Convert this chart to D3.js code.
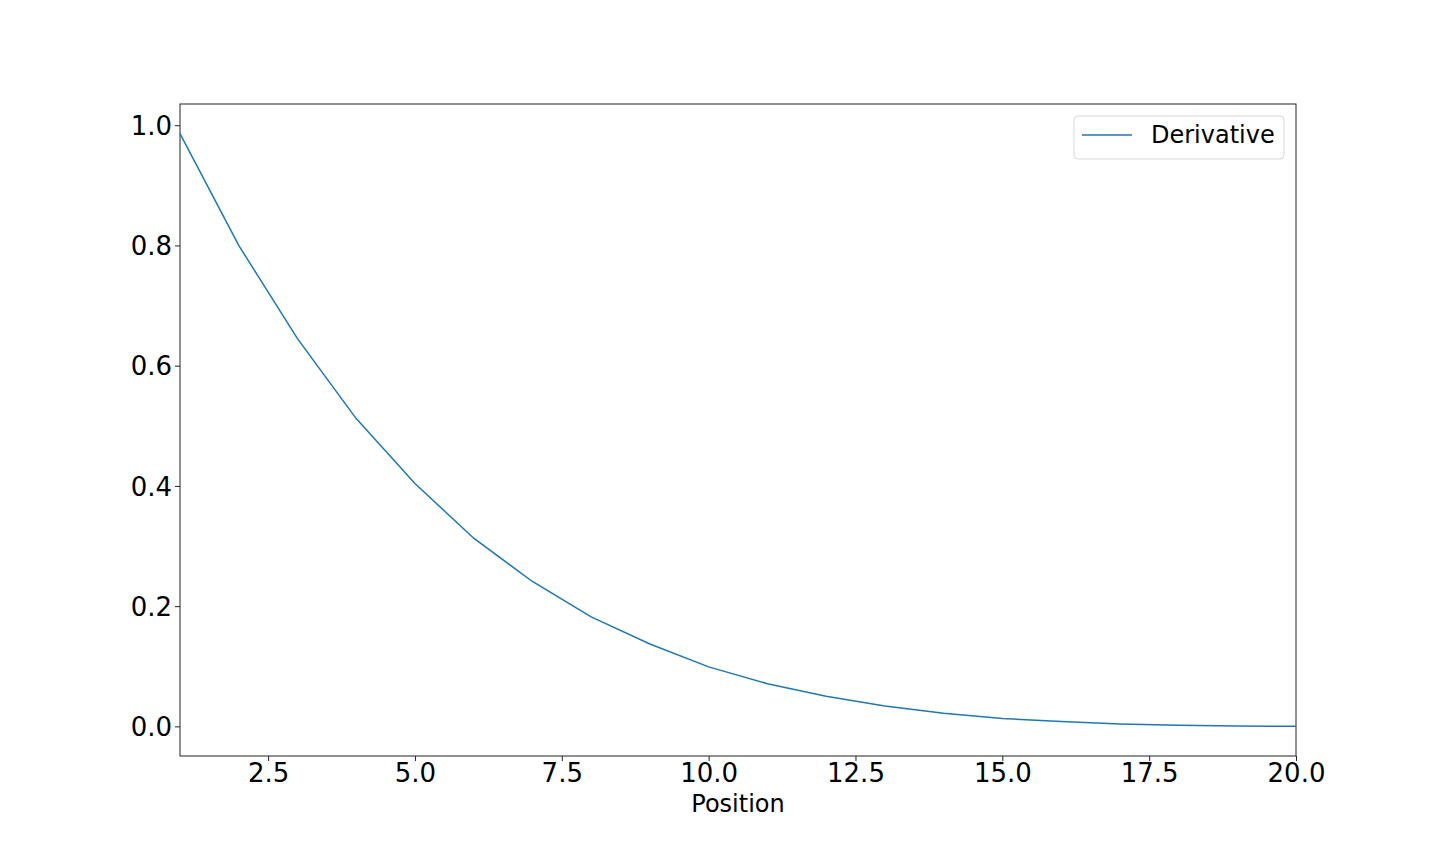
<!DOCTYPE html>
<html>
<head>
<meta charset="utf-8">
<script src="https://cdn.jsdelivr.net/npm/d3@7"></script>
<style>
  body { margin: 0; background: #fff; }
  svg text { font-family: "DejaVu Sans", sans-serif; fill: #000; }
</style>
</head>
<body>
<div id="chart"></div>
<script>
// values
const positions = [1, 2, 3, 4, 5, 6, 7, 8, 9, 10, 11, 12, 13, 14, 15, 16, 17, 18, 19, 20];
const derivative = [0.986, 0.800, 0.645, 0.512, 0.404, 0.313, 0.241, 0.182, 0.137, 0.099,
                    0.071, 0.050, 0.034, 0.022, 0.013, 0.008, 0.004, 0.002, 0.0007, 0.0];
const xTicks = [2.5, 5.0, 7.5, 10.0, 12.5, 15.0, 17.5, 20.0];
const yTicks = [0.0, 0.2, 0.4, 0.6, 0.8, 1.0];
const seriesName = "Derivative";
const xLabel = "Position";

const W = 1440, H = 864;
const margin = { top: 104, right: 144, bottom: 108, left: 180 };
const width = W - margin.left - margin.right;
const height = H - margin.top - margin.bottom;

const svg = d3.select("#chart").append("svg")
  .attr("width", W).attr("height", H);

const g = svg.append("g")
  .attr("transform", `translate(${margin.left},${margin.top})`);

const x = d3.scaleLinear().domain([1, 20]).range([0, width]);
const yMax = d3.max(derivative), pad = yMax * 0.05;
const y = d3.scaleLinear().domain([-pad, yMax + pad]).range([height, 0]);

// x axis
const xAxis = g.append("g")
  .attr("transform", `translate(0,${height})`)
  .call(d3.axisBottom(x).tickValues(xTicks).tickFormat(d3.format(".1f")).tickSizeOuter(0).tickSize(5).tickPadding(3));
xAxis.select(".domain").remove();
xAxis.selectAll("text").style("font-size", "26px");
xAxis.selectAll("line").attr("stroke", "#222");

// y axis
const yAxis = g.append("g")
  .call(d3.axisLeft(y).tickValues(yTicks).tickFormat(d3.format(".1f")).tickSizeOuter(0).tickSize(5).tickPadding(3));
yAxis.select(".domain").remove();
yAxis.selectAll("text").style("font-size", "26px").attr("dy", "0.35em");
yAxis.selectAll("line").attr("stroke", "#222");

// frame
g.append("rect")
  .attr("width", width).attr("height", height)
  .attr("fill", "none").attr("stroke", "#222").attr("stroke-width", 1);

// x label
g.append("text")
  .attr("x", width / 2).attr("y", height + 56)
  .attr("text-anchor", "middle")
  .style("font-size", "24px")
  .text(xLabel);

// line
const line = d3.line()
  .x((d, i) => x(positions[i]))
  .y(d => y(d));

g.append("path")
  .datum(derivative)
  .attr("d", line)
  .attr("fill", "none")
  .attr("stroke", "#1f77b4")
  .attr("stroke-width", 1.5);

// legend
const lg = g.append("g").attr("transform", `translate(${width - 222},12)`);
lg.append("rect")
  .attr("width", 210).attr("height", 43).attr("rx", 4)
  .attr("fill", "#fff").attr("fill-opacity", 0.8)
  .attr("stroke", "#d6d6d6");
lg.append("line")
  .attr("x1", 8).attr("x2", 58).attr("y1", 19).attr("y2", 19)
  .attr("stroke", "#1f77b4").attr("stroke-width", 1.5);
lg.append("text")
  .attr("x", 77).attr("y", 19).attr("dy", "0.35em")
  .style("font-size", "24px")
  .text(seriesName);
</script>
</body>
</html>
